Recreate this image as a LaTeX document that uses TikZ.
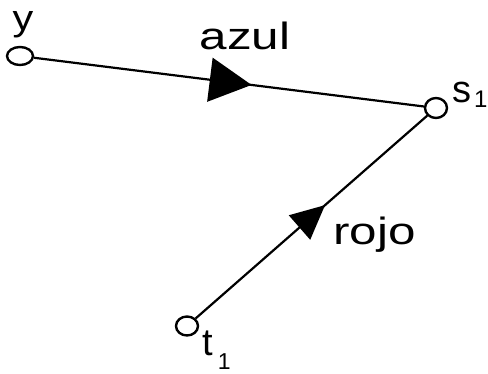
\documentclass[tikz,border=0pt]{standalone}
\usepackage{fontspec}
\setmainfont{Liberation Sans}
\usetikzlibrary{arrows.meta,decorations.markings,shapes.geometric}
\begin{document}
\begin{tikzpicture}[x=1pt,y=-1pt,
  term/.style={draw, ellipse, line width=2.4pt, inner sep=0pt, fill=white},
  wire/.style={line width=2.2pt},
  lbl/.style={inner sep=0pt, font=\fontsize{38}{40}\selectfont}]
\useasboundingbox (0,0) rectangle (488,374);
\node[term, minimum width=26pt, minimum height=18pt] (y) at (20,56) {};
\node[term, minimum width=22pt, minimum height=20pt] (s) at (436,108) {};
\node[term, minimum width=22pt, minimum height=19pt] (t) at (187,326) {};
\draw[wire, postaction={decorate}, decoration={markings, mark=at position 0.558 with {\arrow{Triangle[length=42pt,width=44pt]}}}] (y) -- (s);
\draw[wire, postaction={decorate}, decoration={markings, mark=at position 0.559 with {\arrow{Triangle[length=34pt,width=32pt]}}}] (t) -- (s);
\node[lbl, anchor=base] (az) at (245,50) {\scalebox{1.3}[1]{azul}};
\node[lbl, anchor=base] (rj) at (374.5,245) {\scalebox{1.3}[1]{rojo}};
\node[lbl, anchor=base, font=\fontsize{36}{38}\selectfont] (yl) at (23,31) {\scalebox{1.15}[1]{y}};
\node[lbl, anchor=base west] (sl) at (452,103) {s\hspace{3pt}\raisebox{-5pt}{\fontsize{24}{24}\selectfont 1}};
\node[lbl, anchor=base west] (tl) at (202,356) {t\hspace{5pt}\raisebox{-14pt}{\fontsize{23}{23}\selectfont 1}};
\end{tikzpicture}
\end{document}
